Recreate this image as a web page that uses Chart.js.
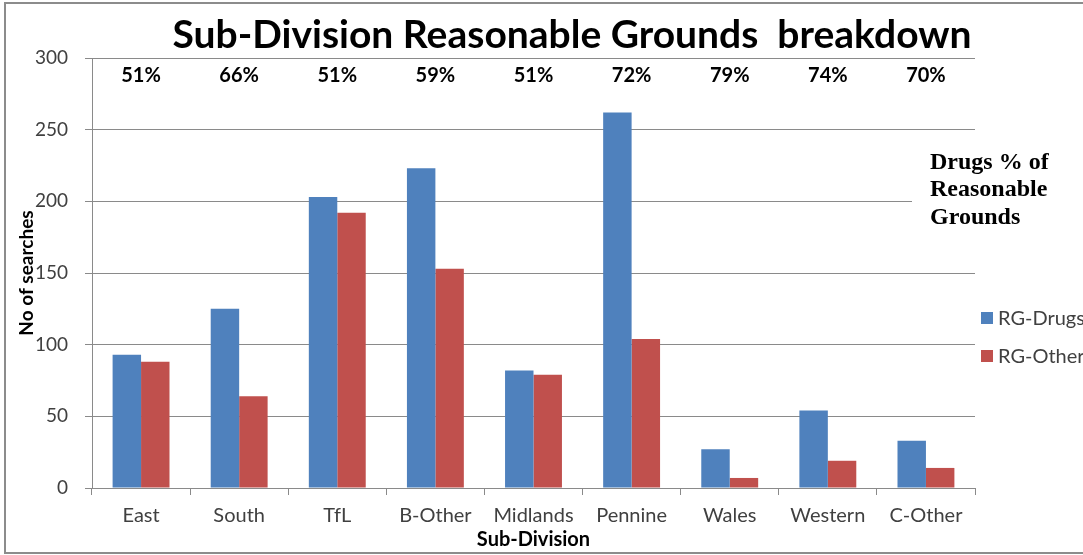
<!DOCTYPE html>
<html>
<head>
<meta charset="utf-8">
<script src="https://cdn.jsdelivr.net/npm/chart.js@4"></script>
<style>
  body { margin: 0; background: #fff; }
  #wrap { width: 1083px; height: 555px; }
</style>
</head>
<body>
<div id="wrap"><canvas id="barChart" width="1083" height="555"></canvas></div>
<script>
const subDivisions = ["East", "South", "TfL", "B-Other", "Midlands", "Pennine", "Wales", "Western", "C-Other"];
const rgDrugs = [93, 125, 203, 223, 82, 262, 27, 54, 33];
const rgOther = [88, 64, 192, 153, 79, 104, 7, 19, 14];
const drugsPct = ["51%", "66%", "51%", "59%", "51%", "72%", "79%", "74%", "70%"];
const yTicks = [0, 50, 100, 150, 200, 250, 300];

const gridGrey = "#8a8a8a";
const calibri = "Lato, 'Open Sans', sans-serif";

const extras = {
    id: "extras",
    beforeDraw: (chart) => {
        const ctx = chart.ctx
        ctx.save()
        ctx.fillStyle = "#fff"
        ctx.fillRect(0, 0, chart.width, chart.height)
        ctx.strokeStyle = "#8c8c8c"
        ctx.lineWidth = 2
        ctx.strokeRect(5, 3, 1200, 550)
        ctx.restore()
    },
    afterDatasetsDraw: (chart) => {
        const ctx = chart.ctx
        const x = chart.scales.x
        ctx.save()
        // title
        ctx.fillStyle = "#000"
        ctx.font = "bold 39px " + calibri
        ctx.textAlign = "center"
        ctx.textBaseline = "middle"
        ctx.fillText("Sub-Division Reasonable Grounds  breakdown", 572, 35)
        // percent labels
        ctx.font = "bold 20px " + calibri
        drugsPct.forEach((p, i) => ctx.fillText(p, x.getPixelForValue(i), 76))
        // side note box
        ctx.fillStyle = "#fff"
        ctx.fillRect(912, 146, 200, 88)
        ctx.fillStyle = "#000"
        ctx.textAlign = "left"
        ctx.font = "bold 24px 'Liberation Serif', serif"
        ctx.fillText("Drugs % of", 930, 163)
        ctx.fillText("Reasonable", 930, 190)
        ctx.fillText("Grounds", 930, 218)
        // legend
        ctx.font = "20px " + calibri
        chart.data.datasets.forEach((ds, i) => {
            const cy = 318 + i * 38
            ctx.fillStyle = ds.backgroundColor
            ctx.fillRect(981, cy - 6, 12, 12)
            ctx.fillStyle = "#404040"
            ctx.fillText(ds.label, 998, cy + 1)
        })
        ctx.restore()
    }
}

new Chart("barChart", {
    type: "bar",
    data: {
        labels: subDivisions,
        datasets: [
            {label: "RG-Drugs", data: rgDrugs, backgroundColor: "#4f81bd", borderWidth: 0},
            {label: "RG-Other", data: rgOther, backgroundColor: "#c0504d", borderWidth: 0}
        ]
    },
    options: {
        responsive: false,
        animation: false,
        layout: {padding: {left: 0, top: 58, right: 108, bottom: 0}},
        plugins: {
            legend: {display: false},
            tooltip: {enabled: false}
        },
        datasets: {bar: {categoryPercentage: 0.58, barPercentage: 1.0}},
        scales: {
            x: {
                grid: {offset: true, drawOnChartArea: false, color: gridGrey, tickLength: 7},
                border: {color: gridGrey},
                ticks: {font: {size: 20, family: calibri}, color: "#404040", padding: 9, maxRotation: 0, autoSkip: false},
                title: {display: true, text: "Sub-Division", font: {size: 20, weight: "bold", family: calibri}, color: "#000", padding: {top: 0, bottom: 3}},
                afterFit: (s) => { s.height = 555 - 488 }
            },
            y: {
                min: 0, max: 300,
                afterBuildTicks: (s) => { s.ticks = yTicks.map(v => ({value: v})) },
                grid: {color: gridGrey, tickLength: 7},
                border: {color: gridGrey},
                ticks: {font: {size: 19, family: calibri}, color: "#404040", padding: 17},
                title: {display: true, text: "No of searches", font: {size: 19, weight: "bold", family: calibri}, color: "#000", padding: {top: 15, bottom: 0}},
                afterFit: (s) => { s.width = 92 }
            }
        }
    },
    plugins: [extras]
});
</script>
</body>
</html>
